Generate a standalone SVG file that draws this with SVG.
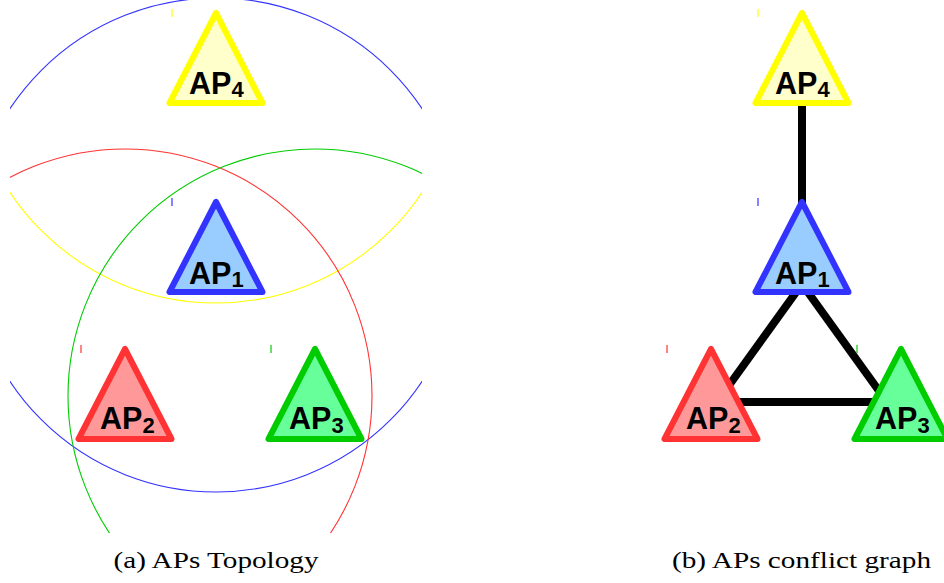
<svg xmlns="http://www.w3.org/2000/svg" width="944" height="583" viewBox="0 0 944 583">
<style>
.tri{stroke-width:6;stroke-linejoin:round}
.lbl{font-family:"Liberation Sans",Arial,sans-serif;font-weight:bold;font-size:30.5px;fill:#000}
.sub{font-size:22px}
.rng{fill:none;stroke-width:1.1}
.edge{stroke:#000;stroke-width:8;fill:none}
.cap{font-family:"Liberation Serif","Times New Roman",serif;font-size:24px;fill:#000}
.tick{stroke-width:1.2}
</style>
<defs>
<path id="tri" d="M0,0 L-46.5,90 L46.5,90 Z"/>
<clipPath id="clipA"><rect x="10" y="0" width="412" height="533"/></clipPath>
</defs>
<rect width="944" height="583" fill="#fff"/>

<g id="ranges" clip-path="url(#clipA)">
<circle class="rng" cx="216" cy="56" r="247" stroke="#ffff00"/>
<circle class="rng" cx="216" cy="245" r="247" stroke="#3333ff"/>
<circle class="rng" cx="125" cy="396" r="247" stroke="#ff3333"/>
<circle class="rng" cx="315" cy="396" r="247" stroke="#00cc00"/>
</g>

<g id="connectors">
<line class="edge" x1="802" y1="60" x2="802" y2="250"/>
<line class="edge" x1="802" y1="284" x2="717" y2="402"/>
<line class="edge" x1="802" y1="284" x2="887" y2="402"/>
<line class="edge" x1="717" y1="402" x2="887" y2="402"/>
</g>

<g id="a-AP4" transform="translate(216,13)">
<line class="tick" x1="-44" y1="-4" x2="-44" y2="4" stroke="#ffff00"/>
<use href="#tri" class="tri" fill="#ffffcc" stroke="#ffff00"/>
<text class="lbl" x="-27" y="80.5">AP<tspan class="sub" dy="3.5">4</tspan></text>
</g>
<g id="a-AP1" transform="translate(216,202)">
<line class="tick" x1="-44" y1="-4" x2="-44" y2="4" stroke="#3333ff"/>
<use href="#tri" class="tri" fill="#99ccff" stroke="#3333ff"/>
<text class="lbl" x="-27" y="81.5">AP<tspan class="sub" dy="3.5">1</tspan></text>
</g>
<g id="a-AP2" transform="translate(125,349)">
<line class="tick" x1="-44" y1="-4" x2="-44" y2="4" stroke="#ff3333"/>
<use href="#tri" class="tri" fill="#ff9999" stroke="#ff3333"/>
<text class="lbl" x="-25" y="80">AP<tspan class="sub" dy="3.5">2</tspan></text>
</g>
<g id="a-AP3" transform="translate(315,349)">
<line class="tick" x1="-44" y1="-4" x2="-44" y2="4" stroke="#00cc00"/>
<use href="#tri" class="tri" fill="#66ff99" stroke="#00cc00"/>
<text class="lbl" x="-26" y="80">AP<tspan class="sub" dy="3.5">3</tspan></text>
</g>

<g id="b-AP4" transform="translate(802,13)">
<line class="tick" x1="-44" y1="-4" x2="-44" y2="4" stroke="#ffff00"/>
<use href="#tri" class="tri" fill="#ffffcc" stroke="#ffff00"/>
<text class="lbl" x="-27" y="80.5">AP<tspan class="sub" dy="3.5">4</tspan></text>
</g>
<g id="b-AP1" transform="translate(802,202)">
<line class="tick" x1="-44" y1="-4" x2="-44" y2="4" stroke="#3333ff"/>
<use href="#tri" class="tri" fill="#99ccff" stroke="#3333ff"/>
<text class="lbl" x="-27" y="81.5">AP<tspan class="sub" dy="3.5">1</tspan></text>
</g>
<g id="b-AP2" transform="translate(711,349)">
<line class="tick" x1="-44" y1="-4" x2="-44" y2="4" stroke="#ff3333"/>
<use href="#tri" class="tri" fill="#ff9999" stroke="#ff3333"/>
<text class="lbl" x="-25" y="80">AP<tspan class="sub" dy="3.5">2</tspan></text>
</g>
<g id="b-AP3" transform="translate(901,349)">
<line class="tick" x1="-44" y1="-4" x2="-44" y2="4" stroke="#00cc00"/>
<use href="#tri" class="tri" fill="#66ff99" stroke="#00cc00"/>
<text class="lbl" x="-26" y="80">AP<tspan class="sub" dy="3.5">3</tspan></text>
</g>

<text class="cap" x="216" y="568" text-anchor="middle" textLength="205" lengthAdjust="spacingAndGlyphs">(a) APs Topology</text>
<text class="cap" x="801.5" y="568" text-anchor="middle" textLength="259" lengthAdjust="spacingAndGlyphs">(b) APs conflict graph</text>
</svg>
